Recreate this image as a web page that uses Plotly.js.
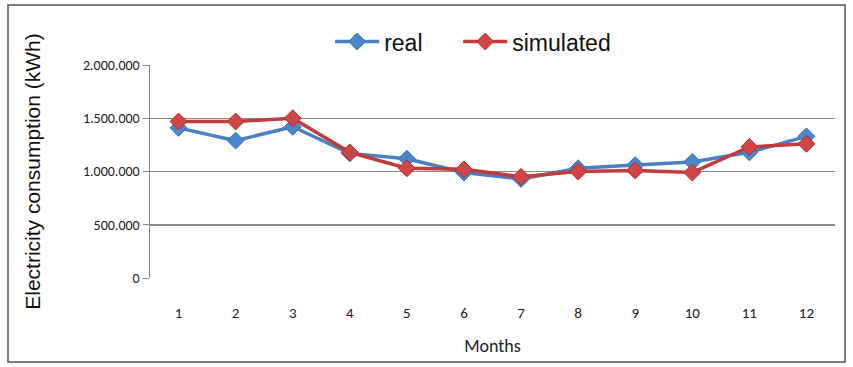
<!DOCTYPE html>
<html>
<head>
<meta charset="utf-8">
<script src="https://cdn.plot.ly/plotly-3.0.1.min.js"></script>
<style>
html,body{margin:0;padding:0;background:#fff;}
#chart{width:853px;height:367px;}
</style>
</head>
<body>
<div id="chart"></div>
<script>
const months = ['1','2','3','4','5','6','7','8','9','10','11','12'];
const realValues = [1410000, 1290000, 1420000, 1170000, 1120000, 990000, 930000, 1030000, 1060000, 1090000, 1180000, 1330000];
const simulatedValues = [1470000, 1470000, 1500000, 1180000, 1030000, 1020000, 950000, 1000000, 1010000, 990000, 1230000, 1260000];
const yTicks = [0, 500000, 1000000, 1500000, 2000000];

const traces = [
  {
    x: months, y: realValues, name: 'real', type: 'scatter', mode: 'lines+markers', legend: 'legend',
    line: {color: '#4a7fc1', width: 3.5},
    marker: {symbol: 'diamond', size: 13, color: '#4a86cc', line: {color: '#3a6fb0', width: 1}}
  },
  {
    x: months, y: simulatedValues, name: 'simulated', type: 'scatter', mode: 'lines+markers', legend: 'legend2',
    line: {color: '#c23b3b', width: 3.5},
    marker: {symbol: 'diamond', size: 13, color: '#d04545', line: {color: '#b03030', width: 1}}
  }
];

const pw = 685, ph = 213;
const legendFont = {size: 23, family: 'Liberation Sans, Arial, sans-serif', color: '#111'};
const layout = {
  width: 853, height: 367,
  margin: {l: 150, r: 18, t: 65, b: 89},
  paper_bgcolor: '#ffffff', plot_bgcolor: '#ffffff',
  separators: ',.',
  font: {family: 'Liberation Sans, Arial, sans-serif', color: '#222'},
  showlegend: true,
  legend: {
    orientation: 'h', x: 0.263, xanchor: 'left', y: 1.11, yanchor: 'middle',
    font: legendFont, bgcolor: 'rgba(0,0,0,0)', itemwidth: 44
  },
  legend2: {
    orientation: 'h', x: 0.45, xanchor: 'left', y: 1.11, yanchor: 'middle',
    font: legendFont, bgcolor: 'rgba(0,0,0,0)', itemwidth: 44
  },
  xaxis: {
    type: 'category', range: [-0.5, 11.5],
    showgrid: false, zeroline: false, showline: false,
    ticks: '', ticklabelstandoff: 24,
    tickfont: {size: 15, family: 'Carlito, Lato, sans-serif', color: '#222'},
    title: {text: 'Months', font: {size: 18, family: 'Carlito, Lato, Open Sans, sans-serif', color: '#222'}, standoff: 18}
  },
  yaxis: {
    range: [0, 2000000], tickvals: yTicks, tickformat: ',d',
    showgrid: true, gridcolor: '#8a8a8a', gridwidth: 1.5,
    zeroline: false, showline: true, linecolor: '#8a8a8a', linewidth: 1.5,
    ticks: 'outside', ticklen: 6, tickcolor: '#8a8a8a',
    tickfont: {size: 14, family: 'Carlito, Lato, sans-serif', color: '#222'},
    title: {text: 'Electricity consumption (kWh)', font: {size: 21, family: 'Liberation Sans, Arial, sans-serif', color: '#111'}, standoff: 36}
  },
  shapes: [
    {type: 'rect', xref: 'paper', yref: 'paper',
     x0: (8 - 150) / pw, x1: (845 - 150) / pw,
     y0: (278 - 362) / ph, y1: (278 - 5) / ph,
     line: {color: '#555', width: 1.5}, fillcolor: 'rgba(0,0,0,0)'}
  ]
};

Plotly.newPlot('chart', traces, layout, {displayModeBar: false, staticPlot: true});
</script>
</body>
</html>
